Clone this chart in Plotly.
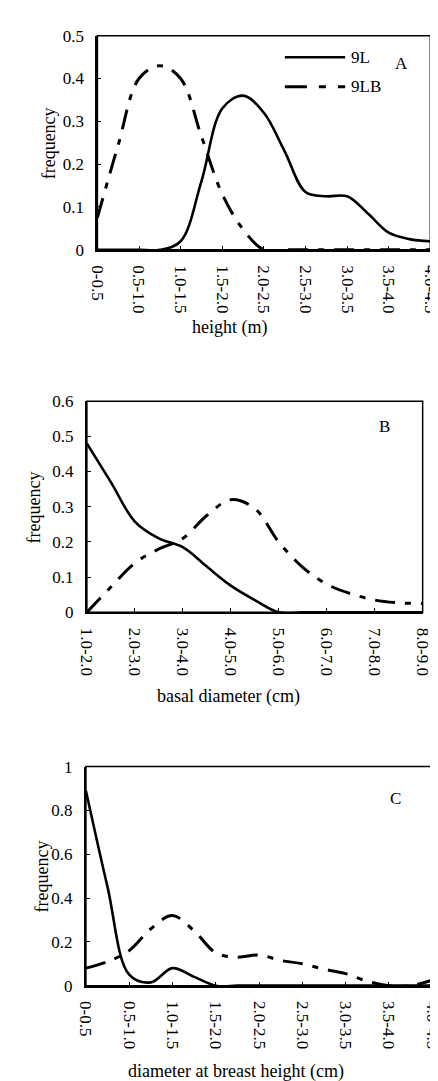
import plotly.graph_objects as go

# ---------------- data ----------------
height_labels = ["0-0.5", "0.5-1.0", "1.0-1.5", "1.5-2.0", "2.0-2.5",
                 "2.5-3.0", "3.0-3.5", "3.5-4.0", "4.0-4.5"]
# values read at every half category step (17 points)
a_9L = [0, 0, 0, 0, 0.02, 0.16, 0.33, 0.36, 0.32, 0.23, 0.135, 0.125,
        0.125, 0.085, 0.04, 0.025, 0.02]
a_9LB = [0.075, 0.245, 0.40, 0.43, 0.40, 0.265, 0.13, 0.048, 0, 0, 0, 0,
         0, 0, 0, 0, 0]

basal_labels = ["1.0-2.0", "2.0-3.0", "3.0-4.0", "4.0-5.0", "5.0-6.0",
                "6.0-7.0", "7.0-8.0", "8.0-9.0"]
b_9L = [0.48, 0.37, 0.258, 0.21, 0.185, 0.13, 0.076, 0.035, 0, 0, 0, 0,
        0, 0, 0]
b_9LB = [0, 0.072, 0.14, 0.18, 0.21, 0.275, 0.32, 0.295, 0.20, 0.128,
         0.08, 0.053, 0.035, 0.027, 0.025]

dbh_labels = ["0-0.5", "0.5-1.0", "1.0-1.5", "1.5-2.0", "2.0-2.5",
              "2.5-3.0", "3.0-3.5", "3.5-4.0", "4.0-4.5"]
c_9L = [0.89, 0.45, 0.05, 0.015, 0.08, 0.04, 0, 0, 0, 0, 0, 0, 0, 0, 0,
        0, 0]
c_9LB = [0.08, 0.11, 0.16, 0.26, 0.32, 0.25, 0.15, 0.13, 0.14, 0.115,
         0.10, 0.075, 0.055, 0.02, 0, 0, 0.025]

series_names = ["9L", "9LB"]

# ---------------- layout helpers ----------------
W, H = 438, 1081
FONT = "Liberation Serif"
DASH = "20px,10px,6px,10px"


def px(x):
    return x / W


def py(y):
    return 1 - y / H


panels = [
    # labels, 9L, 9LB, x-pixel span, y-pixel span, y range, dtick
    (height_labels, a_9L, a_9LB, (83, 431), (19, 237), 0.5, 0.1),
    (basal_labels, b_9L, b_9LB, (72, 423), (391, 606), 0.6, 0.1),
    (dbh_labels, c_9L, c_9LB, (71, 433), (763, 986), 1.0, 0.2),
]

fig = go.Figure()
layout = {}
shapes = []
for i, (labels, s1, s2, (x0, x1), (y0, y1), ymax, dt) in enumerate(panels):
    n = i + 1
    xa = "x" if n == 1 else f"x{n}"
    ya = "y" if n == 1 else f"y{n}"
    xs = [k / 2 for k in range(len(s1))]
    fig.add_trace(go.Scatter(x=xs, y=s1, mode="lines", name=series_names[0],
                             line=dict(color="black", width=2.6, shape="spline",
                                       smoothing=1.0),
                             xaxis=xa, yaxis=ya, showlegend=False))
    fig.add_trace(go.Scatter(x=xs, y=s2, mode="lines", name=series_names[1],
                             line=dict(color="black", width=3, shape="spline",
                                       smoothing=1.0, dash=DASH),
                             xaxis=xa, yaxis=ya, showlegend=False))
    xkey = "xaxis" if n == 1 else f"xaxis{n}"
    ykey = "yaxis" if n == 1 else f"yaxis{n}"
    layout[xkey] = dict(
        domain=[px(x0), px(x1)], anchor=ya, range=[0, len(labels) - 1],
        tickmode="array", tickvals=list(range(len(labels))), ticktext=labels,
        tickangle=90, ticks="inside", ticklen=4, tickcolor="black",
        showgrid=False, zeroline=False, showline=True, linecolor="black",
        linewidth=2, tickfont=dict(family=FONT, size=17, color="black"),
        ticklabelstandoff=10,
    )
    layout[ykey] = dict(
        domain=[py(y1), py(y0)], anchor=xa, range=[0, ymax],
        tickmode="linear", tick0=0, dtick=dt,
        ticks="inside", ticklen=4, tickcolor="black",
        showgrid=False, zeroline=False, showline=True, linecolor="black",
        linewidth=2, tickfont=dict(family=FONT, size=17, color="black"),
        ticklabelstandoff=8,
    )
    shapes.append(dict(type="rect", xref=f"{xa} domain", yref=f"{ya} domain",
                       x0=0, x1=1, y0=0, y1=1,
                       line=dict(color="black", width=1.5)))

# legend drawn in panel A
shapes.append(dict(type="line", xref="paper", yref="paper",
                   x0=px(279), x1=px(342), y0=py(41), y1=py(41),
                   line=dict(color="black", width=2.6)))
shapes.append(dict(type="line", xref="paper", yref="paper",
                   x0=px(279), x1=px(342), y0=py(71), y1=py(71),
                   line=dict(color="black", width=3, dash="22px,12px,7px,12px")))

annotations = []


def ann(text, x, y, angle=0, xanchor="center", size=17):
    annotations.append(dict(text=text, x=px(x), y=py(y), xref="paper",
                            yref="paper", showarrow=False, textangle=angle,
                            xanchor=xanchor, yanchor="middle",
                            font=dict(family=FONT, size=size, color="black")))


ann(series_names[0], 346, 41, xanchor="left")
ann(series_names[1], 346, 71, xanchor="left")
ann("A", 401, 47)
ann("B", 383, 417)
ann("C", 395, 795)
ann("height (m)", 221, 316, size=18)
ann("basal diameter (cm)", 220, 692, size=18)
ann("diameter at breast height (cm)", 228, 1073, size=18)
ann("frequency", 32, 129, angle=-90, size=18)
ann("frequency", 17, 499, angle=-90, size=18)
ann("frequency", 25, 875, angle=-90, size=18)

fig.update_layout(
    width=W, height=H, margin=dict(l=0, r=0, t=0, b=0),
    paper_bgcolor="white", plot_bgcolor="white",
    showlegend=False, shapes=shapes, annotations=annotations,
    font=dict(family=FONT, color="black"),
    **layout,
)

fig.write_html("out.html")
